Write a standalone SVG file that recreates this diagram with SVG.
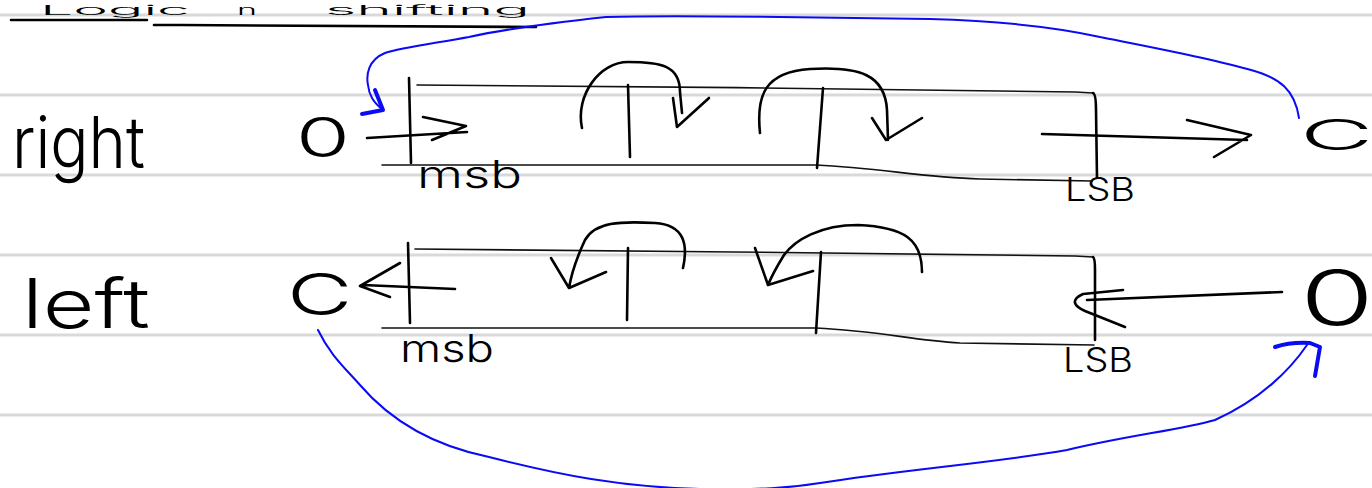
<svg xmlns="http://www.w3.org/2000/svg" width="1372" height="488" viewBox="0 0 1372 488">
<style>
.rule{stroke:#d9d9d9;stroke-width:3;fill:none}
.ink{stroke:#000;stroke-width:2.6;fill:none;stroke-linecap:round;stroke-linejoin:round}
.thin{stroke:#111;stroke-width:1.6;fill:none;stroke-linecap:round;stroke-linejoin:round}
.blue{stroke:#0a0af5;stroke-width:2;fill:none;stroke-linecap:round;stroke-linejoin:round}
.bluehead{stroke:#0a0af5;stroke-width:4;fill:none;stroke-linecap:round;stroke-linejoin:round}
.hw{font-family:Inter,"Open Sans","Liberation Sans",sans-serif;font-weight:300;fill:#000}
.ttl{font-size:13px}
</style>
<rect width="1372" height="488" fill="#fff"/>
<g id="paper">
<path class="rule" d="M0,15 H1372 M0,95 H1372 M0,175 H1372 M0,255 H1372 M0,335 H1372 M0,415 H1372"/>
</g>
<g id="title">
<text class="hw ttl" x="40" y="15" textLength="150" lengthAdjust="spacingAndGlyphs">Logic</text>
<text class="hw ttl" x="237" y="15" textLength="20" lengthAdjust="spacingAndGlyphs">n</text>
<text class="hw ttl" x="325" y="15" textLength="205" lengthAdjust="spacingAndGlyphs">shifting</text>
<path class="ink" d="M11,20 L147,20 M154,25 C300,25 450,27 536,27"/>
</g>
<g id="row-right">
<g id="label-right"><text class="hw" x="12" y="168" font-size="72" textLength="133" lengthAdjust="spacingAndGlyphs">right</text></g>
<g id="zero-in-right"><text class="hw" text-anchor="middle" transform="translate(323,157) scale(1.6,1)" font-size="55">0</text></g>
<g id="register-right">
<path class="ink" d="M409,78 L411,163"/>
<path class="thin" d="M417,85 C600,86 900,89 1075,92 L1093,93"/>
<path class="ink" d="M1093,93 Q1096,94 1096,110 L1097,178"/>
<path class="thin" d="M382,165 L816,165 C880,168 920,177 980,179 L1092,181"/>
<path class="ink" d="M628,85 L630,157 M823,88 L817,168"/>
<text class="hw" x="417" y="188" font-size="38" textLength="105" lengthAdjust="spacingAndGlyphs">msb</text>
<text class="hw" x="1065" y="201" font-size="32" textLength="70" lengthAdjust="spacingAndGlyphs">LSB</text>
</g>
<g id="carry-right"><text class="hw" transform="translate(1300,150) scale(2.4,1)" font-size="42">C</text></g>
</g>
<g id="row-left">
<g id="label-left"><text class="hw" x="22" y="328" font-size="68" textLength="128" lengthAdjust="spacingAndGlyphs">left</text></g>
<g id="carry-left"><text class="hw" transform="translate(287,315) scale(1.55,1)" font-size="58">C</text></g>
<g id="register-left">
<path class="ink" d="M408,243 L410,323"/>
<path class="thin" d="M415,249 C600,250 900,254 1075,256 L1093,257"/>
<path class="ink" d="M1093,257 Q1095,258 1095,270 L1095,340"/>
<path class="thin" d="M382,328 L816,328 C880,331 910,340 960,343 L1094,345"/>
<path class="ink" d="M628,248 L627,320 M821,252 L816,333"/>
<text class="hw" x="400" y="362" font-size="38" textLength="94" lengthAdjust="spacingAndGlyphs">msb</text>
<text class="hw" x="1063" y="372" font-size="34" textLength="70" lengthAdjust="spacingAndGlyphs">LSB</text>
</g>
<g id="zero-in-left"><text class="hw" text-anchor="middle" transform="translate(1337,325) scale(1.6,1)" font-size="75">0</text></g>
</g>
<g id="connectors">
<path class="ink" d="M367,138 L467,132 M423,117 L466,126 L432,140"/>
<path class="ink" d="M582,128 C575,95 600,62 628,62 C660,62 680,65 680,92 L682,113 M673,98 L677,127 L709,98"/>
<path class="ink" d="M760,133 C756,95 765,72 810,69 C860,66 885,75 887,110 L888,140 M872,118 L886,140 L922,118"/>
<path class="ink" d="M1042,134 L1247,140 M1187,120 L1251,135 L1214,157"/>
<path class="ink" d="M363,285 L455,289 M400,263 L360,286 L390,297"/>
<path class="ink" d="M683,268 C688,245 685,225 655,223 C620,221 595,222 585,240 C578,255 572,270 569,288 M551,258 L569,288 L606,272"/>
<path class="ink" d="M922,272 C922,240 905,227 858,225 C820,225 795,240 784,255 C776,268 770,280 768,285 M755,248 L768,285 L813,271"/>
<path class="ink" d="M1282,292 L1087,300 M1123,290 L1083,294 C1070,300 1074,306 1085,311 L1125,327"/>
<path class="blue" d="M1299,118 C1295,90 1280,78 1251,70 C1210,58 1140,45 1100,37 C1060,28 1000,21 930,19 L780,17 C700,16 640,16 606,17 C560,22 500,30 469,37 C430,44 400,48 385,53 C368,60 366,75 368,85 C369,95 373,102 383,110"/>
<path class="bluehead" d="M375,90 L383,110 M362,114 L383,110"/>
<path class="blue" d="M318,330 C330,355 345,368 360,385 C390,420 430,445 489,457 C560,475 620,487 700,489 C760,490 790,488 820,483 C900,470 1000,462 1067,450 C1130,435 1180,430 1215,420 C1260,400 1290,370 1307,345"/>
<path class="bluehead" d="M1275,347 Q1290,342 1310,343 L1320,347 L1315,376"/>
</g>
</svg>
